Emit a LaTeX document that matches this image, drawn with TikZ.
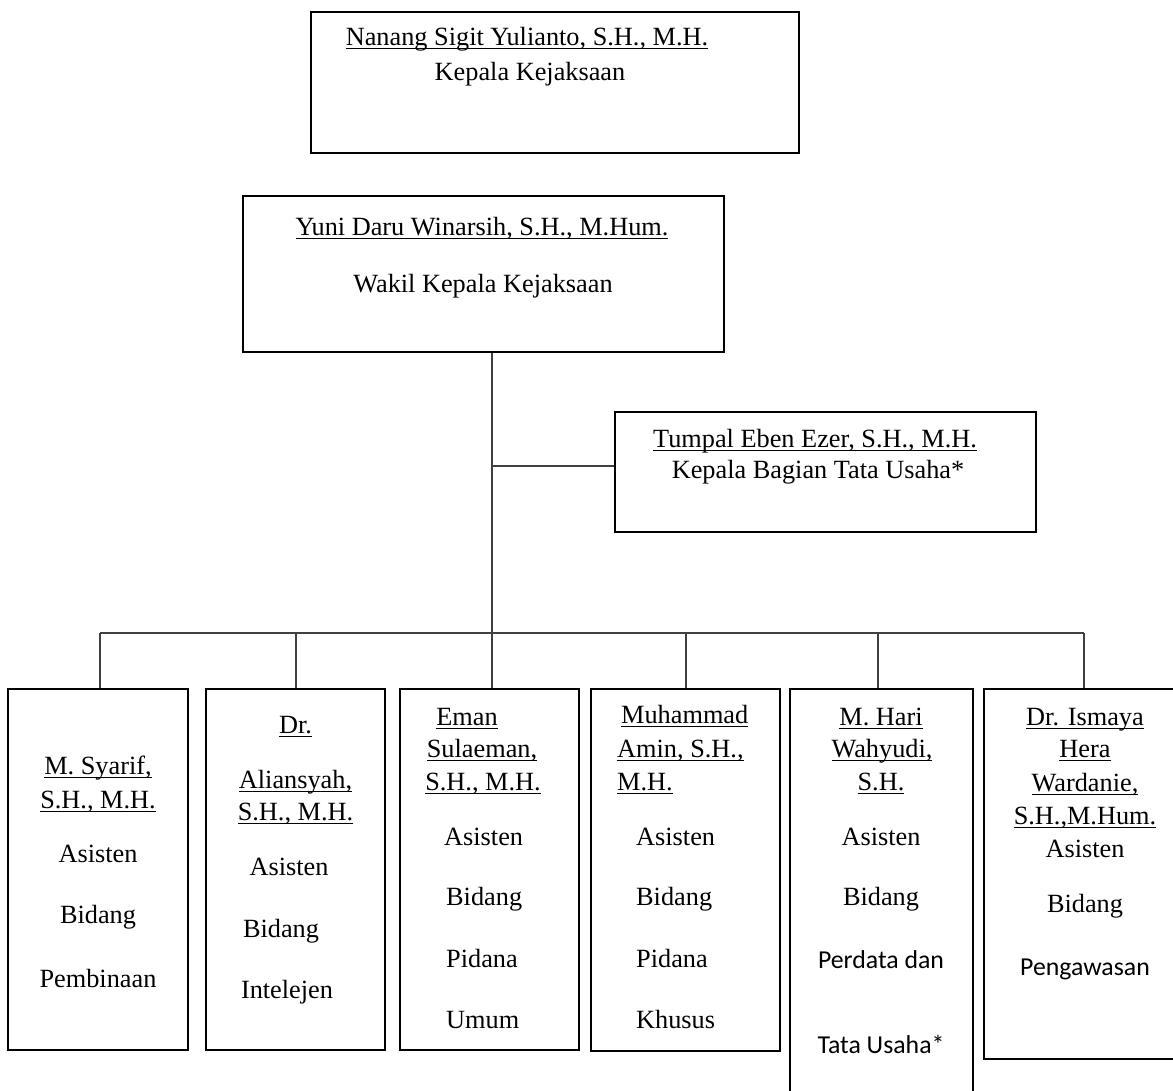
\documentclass[tikz,border=0pt]{standalone}
\usepackage{fontspec}
\setmainfont{Liberation Serif}
\newfontfamily\calibrifont{Carlito}
\newcommand{\myul}[1]{\setbox0\hbox{#1}\rlap{\rule[-4pt]{\wd0}{1.3pt}}\box0}
\begin{document}
\begin{tikzpicture}[x=1pt,y=-1pt,
  box/.style={draw=black, line width=2.6pt, rectangle, inner sep=0pt},
  conn/.style={draw=black!75, line width=1.5pt},
  txt/.style={anchor=base, inner sep=0pt, font=\fontsize{26.3}{30}\selectfont},
  txtl/.style={txt, anchor=base west},
  sanstxt/.style={anchor=base, inner sep=0pt, font=\fontsize{25.8}{30}\calibrifont}]
\useasboundingbox[fill=white] (0,0) rectangle (1173,1090);

% boxes
\node[box, minimum width=488pt, minimum height=141pt] (kk) at (555,82.5) {};
\node[box, minimum width=481pt, minimum height=156pt] (wk) at (483.5,274) {};
\node[box, minimum width=421pt, minimum height=120pt] (tu) at (825.5,472) {};
\node[box, minimum width=180pt, minimum height=361pt] (b1) at (98,869.5) {};
\node[box, minimum width=179pt, minimum height=361pt] (b2) at (295.5,869.5) {};
\node[box, minimum width=179pt, minimum height=361pt] (b3) at (489.5,869.5) {};
\node[box, minimum width=189pt, minimum height=362pt] (b4) at (685.5,870) {};
\node[box, minimum width=183pt, minimum height=421pt] (b5) at (881.5,899.5) {};
\node[box, minimum width=202pt, minimum height=370pt] (b6) at (1085,874) {};

% connectors
\coordinate (jt) at (492,466);
\coordinate (jb) at (492,633);
\coordinate (bl) at (100,633);
\coordinate (d2) at (296,633);
\coordinate (d4) at (686,633);
\coordinate (d5) at (878,633);
\coordinate (br) at (1084,633);
\draw[conn] (wk.south -| jb) -- (jb |- b3.north);
\draw[conn] (jt) -- (jt -| tu.west);
\draw[conn] (bl) -- (br);
\draw[conn] (bl) -- (bl |- b1.north);
\draw[conn] (d2) -- (d2 |- b2.north);
\draw[conn] (d4) -- (d4 |- b4.north);
\draw[conn] (d5) -- (d5 |- b5.north);
\draw[conn] (br) -- (br |- b6.north);

% top texts
\node[txt] (kk1) at (527,45) {\myul{Nanang Sigit Yulianto, S.H., M.H.}};
\node[txt] (kk2) at (530,80) {Kepala Kejaksaan};
\node[txt] (wk1) at (482,235) {\myul{Yuni Daru Winarsih, S.H., M.Hum.}};
\node[txt] (wk2) at (483,292) {Wakil Kepala Kejaksaan};
\node[txt] (tu1) at (815,447) {\myul{Tumpal Eben Ezer, S.H., M.H.}};
\node[txt] (tu2) at (818,478) {Kepala Bagian Tata Usaha*};

% box 1
\node[txt] (b1a) at (98,774) {\myul{M. Syarif,}};
\node[txt] (b1b) at (98,808) {\myul{S.H., M.H.}};
\node[txt] (b1c) at (98,862) {Asisten};
\node[txt] (b1d) at (98,923) {Bidang};
\node[txt] (b1e) at (98,987) {Pembinaan};

% box 2
\node[txt] (b2a) at (295.5,733) {\myul{Dr.}};
\node[txt] (b2b) at (295.5,788) {\myul{Aliansyah,}};
\node[txt] (b2c) at (295.5,820) {\myul{S.H., M.H.}};
\node[txt] (b2d) at (289,875) {Asisten};
\node[txt] (b2e) at (281,937) {Bidang};
\node[txt] (b2f) at (287,998) {Intelejen};

% box 3
\node[txt] (b3a) at (467,725) {\myul{Eman}};
\node[txt] (b3b) at (482,757) {\myul{Sulaeman,}};
\node[txt] (b3c) at (483,790) {\myul{S.H., M.H.}};
\node[txtl] (b3d) at (444,845) {Asisten};
\node[txtl] (b3e) at (446,905) {Bidang};
\node[txtl] (b3f) at (446,967) {Pidana};
\node[txtl] (b3g) at (446,1028) {Umum};

% box 4
\node[txtl] (b4a) at (621,723) {\myul{Muhammad}};
\node[txtl] (b4b) at (617,757) {\myul{Amin, S.H.,}};
\node[txtl] (b4c) at (617,790) {\myul{M.H.}};
\node[txtl] (b4d) at (636,845) {Asisten};
\node[txtl] (b4e) at (636,905) {Bidang};
\node[txtl] (b4f) at (636,967) {Pidana};
\node[txtl] (b4g) at (636,1028) {Khusus};

% box 5
\node[txt] (b5a) at (881,725) {\myul{M. Hari}};
\node[txt] (b5b) at (882,757) {\myul{Wahyudi,}};
\node[txt] (b5c) at (881,790) {\myul{S.H.}};
\node[txt] (b5d) at (881,845) {Asisten};
\node[txt] (b5e) at (881,905) {Bidang};
\node[sanstxt] (b5f) at (881,968) {Perdata dan};
\node[sanstxt] (b5g) at (881,1053) {Tata Usaha*};

% box 6
\node[txt] (b6a) at (1085,725) {\myul{Dr. Ismaya}};
\node[txt] (b6b) at (1085,757) {\myul{Hera}};
\node[txt] (b6c) at (1085,791) {\myul{Wardanie,}};
\node[txt] (b6d) at (1085,824) {\myul{S.H.,M.Hum.}};
\node[txt] (b6e) at (1085,857) {Asisten};
\node[txt] (b6f) at (1085,912) {Bidang};
\node[sanstxt] (b6g) at (1085,975) {Pengawasan};
\end{tikzpicture}
\end{document}
